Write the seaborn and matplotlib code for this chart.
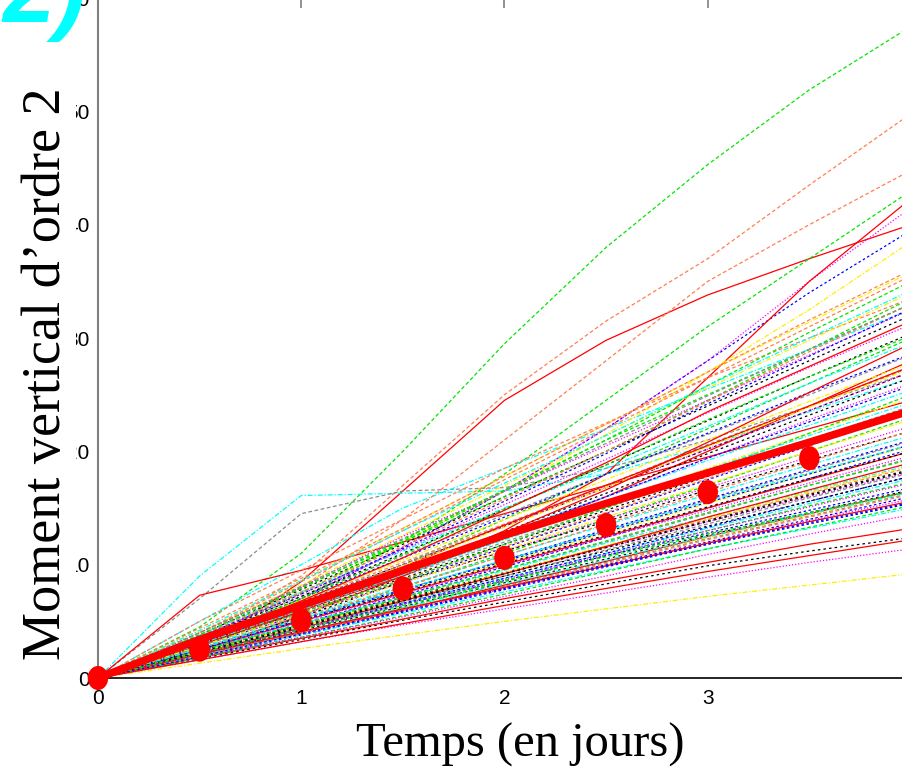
import matplotlib
matplotlib.use("Agg")
import matplotlib.pyplot as plt
import seaborn as sns
import pandas as pd
from matplotlib.patches import Rectangle
from matplotlib.path import Path
from matplotlib.transforms import Affine2D

# ---------------- data ----------------
t_days = [0, 0.5, 1.0, 1.5, 2.0, 2.5, 3.0, 3.5, 4.0]

red_runs = [
    [0, 2.5, 8.5, 16.5, 24.5, 29.8, 33.8, 37.0, 40.0],
    [0, 2.4, 5.5, 9.0, 13.0, 18.0, 26.5, 35.0, 42.3],
    [0, 7.3, 9.5, 12.0, 14.5, 17.0, 19.5, 22.0, 24.5],
    [0, 3.0, 6.0, 9.0, 12.5, 16.0, 20.0, 24.0, 28.0],
    [0, 2.5, 5.0, 7.5, 10.0, 12.5, 15.0, 17.5, 20.0],
    [0, 2.0, 4.0, 6.0, 8.2, 10.3, 12.5, 14.5, 16.5],
    [0, 1.8, 3.5, 5.2, 7.0, 8.6, 10.2, 11.8, 13.2],
    [0, 2.2, 4.4, 6.8, 9.2, 11.6, 14.2, 16.6, 19.0],
    [0, 3.5, 6.5, 9.8, 13.5, 17.0, 20.5, 24.0, 27.5],
    [0, 1.6, 3.2, 4.8, 6.4, 7.9, 9.4, 10.8, 12.2],
    [0, 2.9, 5.9, 9.2, 12.8, 16.6, 20.8, 25.2, 29.5],
    [0, 2.1, 4.1, 6.1, 8.0, 9.9, 11.9, 13.8, 15.6],
    [0, 3.2, 6.8, 10.6, 14.8, 19.0, 23.5, 27.5, 31.5],
]
green_runs = [
    [0, 4.5, 11.0, 20.0, 29.5, 38.0, 45.3, 51.9, 57.5],
    [0, 3.0, 7.0, 12.0, 18.0, 24.5, 31.0, 37.0, 43.0],
    [0, 3.2, 6.5, 10.0, 14.0, 18.0, 22.0, 26.0, 30.0],
    [0, 2.6, 5.2, 8.0, 11.0, 14.0, 17.0, 20.0, 23.0],
    [0, 2.0, 4.0, 6.2, 8.5, 10.8, 13.0, 15.2, 17.3],
    [0, 4.0, 8.0, 12.0, 16.5, 21.0, 25.0, 29.0, 33.0],
    [0, 1.8, 3.6, 5.5, 7.4, 9.4, 11.4, 13.3, 15.2],
    [0, 2.8, 5.8, 8.6, 11.8, 15.0, 18.2, 21.6, 25.0],
    [0, 3.6, 7.5, 12.0, 16.0, 20.0, 24.5, 29.0, 33.5],
    [0, 3.8, 7.9, 12.2, 16.6, 21.0, 25.8, 30.5, 35.0],
    [0, 2.4, 4.7, 7.1, 9.6, 12.1, 14.6, 17.0, 19.3],
    [0, 3.4, 7.0, 10.9, 14.9, 18.8, 22.8, 26.6, 30.2],
    [0, 2.2, 4.3, 6.4, 8.6, 10.7, 12.7, 14.6, 16.5],
]
blue_runs = [
    [0, 3.0, 7.0, 11.5, 16.5, 22.0, 28.0, 34.0, 39.5],
    [0, 2.4, 4.8, 7.3, 9.8, 12.4, 15.0, 17.6, 20.2],
    [0, 2.0, 4.0, 6.0, 8.0, 10.0, 12.0, 14.0, 16.0],
    [0, 2.8, 5.6, 8.5, 11.5, 14.5, 17.5, 20.5, 23.5],
    [0, 1.8, 3.8, 5.8, 7.8, 9.8, 11.8, 13.6, 15.4],
    [0, 2.2, 4.4, 6.6, 8.8, 11.0, 13.3, 15.6, 17.8],
    [0, 3.4, 7.0, 10.6, 14.2, 18.0, 21.6, 25.2, 28.6],
    [0, 2.6, 5.2, 7.8, 10.3, 12.9, 15.5, 18.0, 20.6],
    [0, 2.1, 4.3, 6.5, 8.6, 10.8, 12.8, 14.8, 16.8],
    [0, 3.6, 7.4, 11.4, 15.6, 19.8, 24.2, 28.4, 32.6],
    [0, 2.5, 5.1, 7.7, 10.4, 13.1, 15.8, 18.4, 21.0],
    [0, 1.9, 3.9, 5.9, 7.9, 9.9, 11.8, 13.7, 15.5],
    [0, 3.1, 6.2, 9.4, 12.7, 16.0, 19.4, 22.6, 25.8],
]
magenta_runs = [
    [0, 3.2, 7.0, 11.5, 16.5, 22.0, 28.0, 35.0, 41.5],
    [0, 1.6, 3.2, 4.7, 6.1, 7.5, 8.9, 10.2, 11.4],
    [0, 2.3, 4.6, 6.9, 9.2, 11.5, 13.8, 16.0, 18.2],
    [0, 2.0, 3.9, 5.9, 7.9, 9.9, 11.9, 13.9, 15.8],
    [0, 2.8, 5.6, 8.4, 11.2, 14.0, 16.8, 19.5, 22.2],
    [0, 3.3, 6.6, 10.0, 13.4, 16.8, 20.2, 23.6, 27.0],
    [0, 1.9, 3.6, 5.4, 7.2, 9.0, 10.9, 12.7, 14.4],
    [0, 2.5, 5.0, 7.4, 9.9, 12.4, 14.8, 17.2, 19.6],
    [0, 4.0, 8.0, 12.5, 16.5, 20.5, 24.5, 28.5, 32.5],
    [0, 3.0, 6.1, 9.3, 12.6, 16.0, 19.4, 22.8, 26.0],
    [0, 2.2, 4.3, 6.5, 8.7, 10.9, 13.0, 15.1, 17.2],
    [0, 3.6, 7.4, 11.3, 15.3, 19.3, 23.4, 27.4, 31.2],
]
cyan_runs = [
    [0, 9.0, 16.1, 16.3, 16.5, 18.0, 20.5, 23.5, 26.5],
    [0, 5.0, 10.0, 15.0, 18.5, 22.0, 25.5, 29.0, 32.5],
    [0, 2.2, 4.4, 6.6, 8.8, 11.0, 13.2, 15.4, 17.6],
    [0, 2.7, 5.4, 8.1, 10.8, 13.5, 16.2, 18.8, 21.4],
    [0, 1.9, 3.8, 5.7, 7.6, 9.5, 11.4, 13.2, 15.0],
    [0, 3.2, 6.4, 9.6, 12.8, 16.0, 19.2, 22.3, 25.4],
    [0, 2.4, 4.8, 7.1, 9.5, 11.9, 14.2, 16.5, 18.8],
    [0, 3.8, 7.6, 11.2, 15.0, 18.5, 22.2, 26.0, 29.6],
    [0, 2.0, 4.1, 6.2, 8.3, 10.4, 12.5, 14.5, 16.4],
    [0, 4.2, 8.6, 13.0, 17.2, 21.4, 25.8, 30.0, 34.2],
    [0, 2.6, 5.2, 7.8, 10.4, 13.0, 15.6, 18.1, 20.6],
    [0, 3.0, 6.0, 9.1, 12.2, 15.3, 18.4, 21.4, 24.3],
]
coral_runs = [
    [0, 3.5, 9.0, 17.0, 25.0, 31.5, 37.0, 43.5, 49.8],
    [0, 3.0, 8.0, 14.0, 21.0, 28.0, 35.0, 40.0, 44.8],
    [0, 4.0, 8.5, 13.0, 17.5, 22.0, 26.5, 31.0, 35.5],
    [0, 2.9, 5.8, 8.7, 11.6, 14.6, 17.6, 20.6, 23.6],
    [0, 2.3, 4.6, 6.9, 9.2, 11.6, 14.0, 16.3, 18.6],
    [0, 5.0, 9.5, 14.0, 18.5, 22.5, 26.5, 30.0, 33.5],
    [0, 2.0, 4.0, 6.0, 8.0, 10.1, 12.2, 14.2, 16.2],
    [0, 3.4, 6.8, 10.2, 13.6, 17.0, 20.5, 24.0, 27.5],
    [0, 3.7, 7.6, 11.6, 15.8, 20.0, 24.4, 28.8, 33.0],
    [0, 2.6, 5.3, 8.0, 10.8, 13.6, 16.4, 19.1, 21.8],
    [0, 4.4, 8.8, 13.2, 17.8, 22.4, 27.0, 31.6, 36.0],
]
gray_runs = [
    [0, 7.0, 14.5, 16.5, 16.8, 18.5, 21.0, 24.0, 27.0],
    [0, 2.4, 4.8, 7.2, 9.6, 12.0, 14.5, 17.0, 19.4],
    [0, 3.0, 6.0, 9.0, 12.0, 15.0, 18.0, 21.0, 24.0],
    [0, 2.0, 4.0, 6.0, 8.1, 10.2, 12.3, 14.3, 16.3],
    [0, 3.6, 7.2, 10.8, 14.4, 18.0, 21.5, 25.0, 28.5],
    [0, 2.6, 5.2, 7.8, 10.4, 13.0, 15.7, 18.3, 20.9],
    [0, 3.3, 6.6, 10.0, 13.5, 17.0, 20.6, 24.0, 27.4],
    [0, 2.2, 4.4, 6.7, 9.0, 11.3, 13.6, 15.9, 18.1],
    [0, 4.0, 8.1, 12.3, 16.5, 20.7, 24.9, 29.0, 33.0],
]
black_runs = [
    [0, 1.7, 3.4, 5.1, 6.7, 8.3, 9.9, 11.2, 12.4],
    [0, 2.4, 4.7, 7.0, 9.3, 11.6, 13.9, 16.2, 18.4],
    [0, 2.9, 5.8, 8.8, 11.8, 14.8, 17.8, 20.8, 23.8],
    [0, 2.1, 4.2, 6.3, 8.4, 10.5, 12.6, 14.6, 16.6],
    [0, 3.3, 6.7, 10.0, 13.4, 16.8, 20.2, 23.6, 27.0],
    [0, 2.6, 5.1, 7.6, 10.1, 12.6, 15.1, 17.6, 20.0],
    [0, 3.8, 7.8, 11.8, 16.0, 20.0, 24.0, 28.0, 32.0],
    [0, 2.2, 4.5, 6.8, 9.0, 11.2, 13.4, 15.6, 17.8],
    [0, 2.5, 5.4, 8.5, 11.2, 13.8, 16.6, 19.2, 21.8],
    [0, 3.0, 6.2, 9.5, 12.9, 16.3, 19.8, 23.2, 26.5],
    [0, 3.5, 7.2, 11.0, 14.9, 18.8, 22.7, 26.6, 30.4],
    [0, 2.3, 4.6, 6.9, 9.2, 11.5, 13.8, 16.1, 18.3],
]
yellow_runs = [
    [0, 1.3, 2.6, 3.8, 5.0, 6.1, 7.2, 8.2, 9.2],
    [0, 3.5, 7.5, 12.0, 16.5, 21.5, 27.0, 32.5, 38.5],
    [0, 2.5, 5.0, 7.6, 10.2, 12.8, 15.4, 18.0, 20.5],
    [0, 3.0, 6.1, 9.2, 12.3, 15.4, 18.5, 21.6, 24.7],
    [0, 2.0, 4.0, 6.1, 8.2, 10.3, 12.4, 14.4, 16.4],
    [0, 4.0, 8.2, 12.6, 17.0, 21.4, 25.6, 29.8, 34.0],
    [0, 2.3, 4.6, 6.9, 9.3, 11.7, 14.1, 16.4, 18.7],
    [0, 3.4, 6.9, 10.4, 14.0, 17.5, 21.0, 24.4, 27.8],
    [0, 4.2, 8.6, 13.2, 17.8, 22.4, 27.0, 31.4, 35.8],
    [0, 3.2, 6.5, 9.9, 13.3, 16.8, 20.4, 23.9, 27.3],
    [0, 2.8, 5.6, 8.4, 11.3, 14.2, 17.1, 20.0, 22.8],
]

mean_curve = [0, 3.4, 6.4, 9.5, 12.6, 15.4, 18.1, 20.8, 23.6]
obs_t = [0, 0.5, 1.0, 1.5, 2.0, 2.5, 3.0, 3.5]
obs_v = [0, 2.5, 5.1, 7.9, 10.6, 13.5, 16.4, 19.4]

x_ticks = [0, 1, 2, 3]
y_ticks = [0, 10, 20, 30, 40, 50, 60]
y_tick_labels = ["0", "10", "20", "30", "40", "50", "60"]

# ---------------- styles ----------------
groups = [
    (red_runs, "#ff0000", "-"),
    (green_runs, "#00e600", (0, (3, 2))),
    (blue_runs, "#0000ff", (0, (2, 2))),
    (magenta_runs, "#ff00ff", (0, (1, 1.5))),
    (cyan_runs, "#00ffff", (0, (4, 1.5, 1, 1.5))),
    (coral_runs, "#ff7f50", (0, (3, 2))),
    (gray_runs, "#8c8c8c", (0, (3, 2))),
    (black_runs, "#000000", (0, (2, 2.5))),
    (yellow_runs, "#ffee00", (0, (4, 1.5, 1, 1.5))),
]

sns.set_theme(style="white")
plt.rcParams["font.family"] = ["Liberation Sans", "DejaVu Sans"]

fig = plt.figure(figsize=(9.03, 7.77), dpi=100)
ax = fig.add_axes([98 / 903, 99 / 777, 813 / 903, 680 / 777])

# interleave groups so that colours are mixed in the drawing order
n_max = max(len(g[0]) for g in groups)
for k in range(n_max):
    for runs, col, ls in groups:
        if k < len(runs):
            df = pd.DataFrame({"t": t_days, "v": runs[k]})
            sns.lineplot(data=df, x="t", y="v", color=col, linestyle=ls,
                         linewidth=0.9, ax=ax, zorder=2, errorbar=None)

sns.lineplot(x=t_days, y=mean_curve, color="#ff0000", linewidth=5.5,
             ax=ax, zorder=4, errorbar=None)

ell = Path.unit_circle().transformed(Affine2D().scale(0.85, 1.0))
sns.scatterplot(x=obs_t, y=obs_v, color="#ff0000", marker=ell, s=300,
                edgecolor="none", linewidth=0, ax=ax, zorder=5, clip_on=False)

ax.set_xlim(0, 4)
ax.set_ylim(0, 60)
ax.set_xticks(x_ticks)
ax.set_xticklabels([str(v) for v in x_ticks])
ax.set_yticks(y_ticks)
ax.set_yticklabels(y_tick_labels)
ax.set_xlabel("")
ax.set_ylabel("")
ax.tick_params(axis="both", direction="in", length=7, width=1.2,
               color="#808080", labelsize=15, labelcolor="black",
               top=True, right=False)
ax.tick_params(axis="x", pad=8)
ax.tick_params(axis="y", pad=6)
for side in ["left", "top", "right"]:
    ax.spines[side].set_color("#808080")
    ax.spines[side].set_linewidth(1.5)
ax.spines["bottom"].set_color("black")
ax.spines["bottom"].set_linewidth(1.2)
ax.set_facecolor("white")

# white band masking the left part of the tick labels (as in the reference)
fig.patches.append(Rectangle((0, 0), 76 / 903, 1, transform=fig.transFigure,
                             facecolor="white", edgecolor="none", zorder=3))

fig.text(47 / 903, 1 - 374 / 777, "Moment vertical d’ordre 2", rotation=90,
         ha="center", va="center", fontsize=39, family=["Liberation Serif"],
         color="black", zorder=6)
fig.text(520 / 903, 1 - 745 / 777, "Temps (en jours)", ha="center",
         va="center", fontsize=35, family=["Liberation Serif"],
         color="black", zorder=6)
fig.text(2 / 903, 1 - 22 / 777, "2)", ha="left", va="baseline",
         fontsize=68, fontweight="bold", fontstyle="italic",
         color="#00ffff", zorder=6)

fig.savefig("out.png", dpi=100)
